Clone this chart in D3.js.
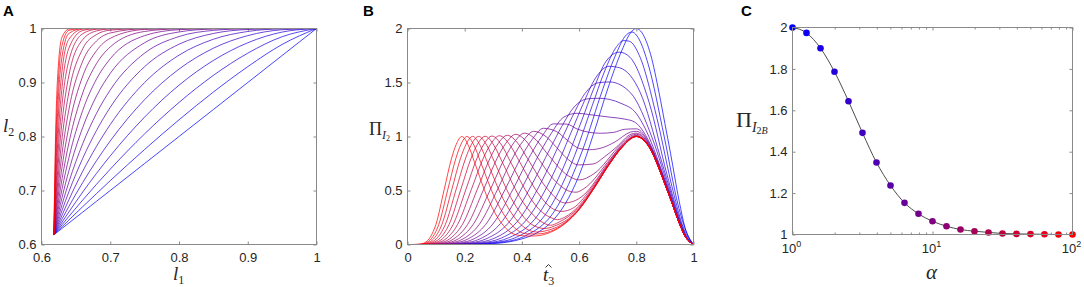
<!DOCTYPE html>
<html lang="en">
<head>
<meta charset="UTF-8">
<title>Panels A-C</title>
<style>
  body { margin: 0; background: #fff; }
  .tick text { font-family: "Liberation Sans", Arial, sans-serif; font-size: 13px; fill: #262626; }
  .tick line { stroke: #8a8a8a; }
  .frame { fill: none; stroke: #8a8a8a; stroke-width: 1; }
  .math { font-family: "Liberation Serif", "DejaVu Serif", serif; fill: #262626; }
  .letter { font-family: "Liberation Sans", Arial, sans-serif; font-weight: bold; font-size: 15px; fill: #000; }
  .curve { fill: none; stroke-width: 1; stroke-opacity: .72; }
</style>
</head>
<body>
<script src="https://cdn.jsdelivr.net/npm/d3@7"></script>
<script>
// alpha values (same 21 for every panel), blue -> red
var alphaVals = [1, 1.259, 1.585, 1.995, 2.512, 3.162, 3.981, 5.012, 6.310, 7.943, 10,
                 12.59, 15.85, 19.95, 25.12, 31.62, 39.81, 50.12, 63.10, 79.43, 100];

// ---- panel A : l2 vs l1 ----
var l1Grid = [0.618, 0.62, 0.625, 0.63, 0.64, 0.66, 0.68, 0.70, 0.75, 0.80, 0.85, 0.90, 0.95, 1];
var l2Curves = [
  [0.618,0.62,0.625,0.63,0.64,0.66,0.68,0.70,0.75,0.80,0.85,0.90,0.95,1],
  [0.618,0.6205,0.6268,0.6330,0.6455,0.6701,0.6943,0.7182,0.7760,0.8309,0.8823,0.9293,0.9705,1],
  [0.618,0.6212,0.6290,0.6368,0.6523,0.6824,0.7115,0.7395,0.8049,0.8630,0.9132,0.9543,0.9848,1],
  [0.618,0.6220,0.6318,0.6416,0.6606,0.6972,0.7317,0.7641,0.8360,0.8950,0.9408,0.9736,0.9934,1],
  [0.618,0.6230,0.6353,0.6474,0.6709,0.7149,0.7552,0.7918,0.8683,0.9248,0.9635,0.9868,0.9977,1],
  [0.618,0.6243,0.6397,0.6547,0.6833,0.7357,0.7818,0.8221,0.9000,0.9506,0.9801,0.9945,0.9994,1],
  [0.618,0.6259,0.6451,0.6636,0.6983,0.7597,0.8112,0.8540,0.9294,0.9709,0.9908,0.9982,0.9999,1],
  [0.618,0.6279,0.6518,0.6745,0.7163,0.7869,0.8428,0.8862,0.9544,0.9851,0.9965,0.9995,1,1],
  [0.618,0.6304,0.6601,0.6877,0.7373,0.8168,0.8750,0.9169,0.9737,0.9936,0.9990,0.9999,1,1],
  [0.618,0.6336,0.6702,0.7035,0.7615,0.8485,0.9064,0.9440,0.9868,0.9978,0.9998,1,1,1],
  [0.618,0.6375,0.6825,0.7224,0.7889,0.8808,0.9350,0.9659,0.9945,0.9994,1,1,1,1],
  [0.618,0.6424,0.6974,0.7444,0.8190,0.9119,0.9589,0.9818,0.9982,0.9999,1,1,1,1],
  [0.618,0.6485,0.7150,0.7697,0.8508,0.9397,0.9769,0.9917,0.9995,1,1,1,1,1],
  [0.618,0.6560,0.7359,0.7979,0.8830,0.9626,0.9888,0.9969,0.9999,1,1,1,1,1],
  [0.618,0.6652,0.7599,0.8287,0.9139,0.9795,0.9955,0.9991,1,1,1,1,1,1],
  [0.618,0.6764,0.7871,0.8608,0.9415,0.9904,0.9986,0.9998,1,1,1,1,1,1],
  [0.618,0.6900,0.8171,0.8928,0.9640,0.9963,0.9997,1,1,1,1,1,1,1],
  [0.618,0.7064,0.8488,0.9229,0.9805,0.9989,0.9999,1,1,1,1,1,1,1],
  [0.618,0.7257,0.8811,0.9490,0.9910,0.9998,1,1,1,1,1,1,1,1],
  [0.618,0.7483,0.9121,0.9697,0.9966,1,1,1,1,1,1,1,1,1],
  [0.618,0.7740,0.9399,0.9843,0.9990,1,1,1,1,1,1,1,1,1]
];

// ---- panel B : Pi_I2 vs t3, [t, value] per curve ----
var piCurves = [
  [[0,0],[0.15,0],[0.2,0.0006],[0.25,0.002],[0.3,0.008],[0.35,0.022],[0.4,0.052],[0.45,0.104],[0.5,0.20],[0.55,0.37],[0.6,0.64],[0.65,1.02],[0.7,1.44],[0.75,1.80],[0.78,1.96],[0.8,2.0],[0.82,1.96],[0.85,1.76],[0.88,1.40],[0.9,1.12],[0.92,0.84],[0.95,0.40],[0.97,0.16],[1,0]],
  [[0,0],[0.15,0],[0.2289,0.002],[0.3223,0.018],[0.4173,0.087],[0.5139,0.309],[0.6126,0.878],[0.6833,1.442],[0.7245,1.735],[0.7663,1.944],[0.785,1.967],[0.809,1.904],[0.8417,1.668],[0.8979,0.995],[0.9454,0.374],[0.9775,0.10],[1,0]],
  [[0,0],[0.15,0],[0.2092,0.001],[0.2964,0.015],[0.386,0.074],[0.4788,0.265],[0.5754,0.764],[0.6461,1.287],[0.6879,1.596],[0.7311,1.832],[0.755,1.888],[0.7759,1.882],[0.8108,1.749],[0.8727,1.164],[0.9277,0.504],[0.9675,0.135],[1,0]],
  [[0,0],[0.12,0],[0.1911,0.001],[0.2721,0.013],[0.3564,0.065],[0.4449,0.234],[0.5388,0.676],[0.6087,1.145],[0.6507,1.44],[0.6947,1.698],[0.741,1.781],[0.7777,1.734],[0.8446,1.318],[0.9068,0.652],[0.9548,0.211],[0.97,0.103],[1,0]],
  [[0,0],[0.1,0],[0.1743,0.001],[0.2494,0.012],[0.3284,0.060],[0.4124,0.217],[0.5029,0.615],[0.5716,1.035],[0.6134,1.298],[0.6576,1.542],[0.7048,1.650],[0.743,1.635],[0.814,1.406],[0.8828,0.820],[0.939,0.321],[0.95,0.230],[0.97,0.094],[1,0]],
  [[0,0],[0.09,0],[0.1589,0.001],[0.2283,0.012],[0.302,0.056],[0.3814,0.205],[0.4682,0.580],[0.535,0.952],[0.5762,1.183],[0.6202,1.397],[0.6679,1.498],[0.7069,1.505],[0.7811,1.401],[0.8558,0.985],[0.92,0.46],[0.95,0.218],[0.97,0.088],[1,0]],
  [[0,0],[0.08,0],[0.1447,0.001],[0.2087,0.011],[0.2774,0.055],[0.352,0.197],[0.4347,0.554],[0.4993,0.891],[0.5395,1.094],[0.5829,1.274],[0.6306,1.349],[0.67,1.354],[0.7465,1.307],[0.8,1.213],[0.8261,1.100],[0.8979,0.615],[0.92,0.446],[0.95,0.211],[0.97,0.083],[1,0]],
  [[0,0],[0.07,0],[0.1317,0.001],[0.1906,0.011],[0.2543,0.053],[0.3242,0.192],[0.4027,0.537],[0.4646,0.858],[0.5036,1.033],[0.5462,1.179],[0.5932,1.215],[0.6326,1.204],[0.7105,1.178],[0.76,1.161],[0.794,1.134],[0.8727,0.784],[0.9,0.585],[0.92,0.435],[0.95,0.203],[0.97,0.08],[1,0]],
  [[0,0],[0.06,0],[0.1198,0.001],[0.1739,0.011],[0.2329,0.053],[0.2982,0.189],[0.3721,0.528],[0.4313,0.834],[0.4689,0.997],[0.5101,1.117],[0.5563,1.115],[0.5953,1.067],[0.6737,1.030],[0.72,1.038],[0.76,1.067],[0.8,1.071],[0.8447,0.938],[0.88,0.722],[0.92,0.429],[0.95,0.202],[0.97,0.08],[1,0]],
  [[0,0],[0.06,0],[0.1088,0.001],[0.1585,0.011],[0.213,0.053],[0.2737,0.187],[0.3433,0.520],[0.3994,0.818],[0.4354,0.971],[0.4751,1.076],[0.52,1.047],[0.5583,0.967],[0.6,0.89],[0.6364,0.878],[0.68,0.895],[0.7245,0.948],[0.78,1.041],[0.8,1.048],[0.85,0.904],[0.88,0.713],[0.9,0.567],[0.92,0.423],[0.95,0.2],[0.97,0.08],[1,0]],
  [[0,0],[0.05,0],[0.0989,0.001],[0.1443,0.011],[0.1945,0.052],[0.2509,0.186],[0.316,0.516],[0.3691,0.809],[0.4033,0.955],[0.4414,1.048],[0.4847,0.998],[0.522,0.897],[0.55,0.815],[0.599,0.737],[0.65,0.746],[0.688,0.810],[0.73,0.90],[0.7812,1.021],[0.8,1.031],[0.85,0.894],[0.88,0.707],[0.9,0.563],[0.92,0.421],[0.95,0.2],[0.97,0.08],[1,0]],
  [[0,0],[0.05,0],[0.0897,0.001],[0.1313,0.011],[0.1775,0.052],[0.2297,0.186],[0.2904,0.513],[0.3403,0.802],[0.3727,0.945],[0.409,1.031],[0.4506,0.966],[0.4867,0.847],[0.562,0.637],[0.6,0.598],[0.6508,0.653],[0.7466,0.928],[0.78,1.006],[0.8,1.020],[0.85,0.888],[0.88,0.70],[0.9,0.56],[0.92,0.42],[0.95,0.2],[0.97,0.08],[1,0]],
  [[0,0],[0.04,0],[0.0814,0.001],[0.1194,0.011],[0.1618,0.052],[0.21,0.185],[0.2665,0.512],[0.3133,0.798],[0.3438,0.937],[0.3782,1.020],[0.4179,0.948],[0.4525,0.814],[0.5256,0.564],[0.57,0.49],[0.59,0.484],[0.6134,0.511],[0.7106,0.798],[0.75,0.924],[0.8,1.011],[0.82,0.985],[0.85,0.884],[0.88,0.70],[0.9,0.56],[0.92,0.42],[0.95,0.2],[0.97,0.08],[1,0]],
  [[0,0],[0.035,0],[0.0738,0.001],[0.1085,0.011],[0.1474,0.052],[0.1918,0.185],[0.2442,0.511],[0.2879,0.795],[0.3165,0.933],[0.349,1.011],[0.3866,0.935],[0.4196,0.796],[0.4901,0.511],[0.55,0.385],[0.5762,0.396],[0.62,0.467],[0.6737,0.650],[0.7,0.749],[0.75,0.915],[0.8,1.005],[0.82,0.982],[0.85,0.882],[0.88,0.70],[0.9,0.56],[0.92,0.42],[0.95,0.2],[0.97,0.08],[1,0]],
  [[0,0],[0.03,0],[0.067,0.001],[0.0986,0.011],[0.1341,0.052],[0.175,0.185],[0.2235,0.511],[0.2641,0.793],[0.2909,0.930],[0.3214,1.007],[0.3569,0.926],[0.3883,0.783],[0.4558,0.478],[0.5,0.344],[0.5395,0.307],[0.58,0.339],[0.6364,0.498],[0.7,0.738],[0.75,0.909],[0.8,1.002],[0.82,0.981],[0.85,0.88],[0.88,0.70],[0.9,0.56],[0.92,0.42],[0.95,0.2],[0.97,0.08],[1,0]],
  [[0,0],[0.03,0],[0.0607,0.001],[0.0895,0.011],[0.122,0.052],[0.1595,0.185],[0.2043,0.510],[0.242,0.793],[0.267,0.929],[0.2955,1.004],[0.3289,0.921],[0.3585,0.774],[0.4228,0.458],[0.46,0.325],[0.5037,0.246],[0.525,0.23],[0.55,0.253],[0.5991,0.357],[0.65,0.531],[0.7,0.73],[0.75,0.903],[0.8,1.0],[0.82,0.98],[0.85,0.88],[0.88,0.70],[0.9,0.56],[0.92,0.42],[0.95,0.2],[0.97,0.08],[1,0]],
  [[0,0],[0.025,0],[0.055,0.001],[0.0812,0.011],[0.1109,0.052],[0.1453,0.185],[0.1865,0.510],[0.2215,0.793],[0.2447,0.928],[0.2713,1.002],[0.3025,0.917],[0.3305,0.768],[0.3914,0.443],[0.4689,0.210],[0.5,0.178],[0.53,0.208],[0.562,0.257],[0.6,0.345],[0.65,0.523],[0.7,0.725],[0.75,0.902],[0.8,1.0],[0.82,0.98],[0.85,0.88],[0.88,0.70],[0.9,0.56],[0.92,0.42],[0.95,0.2],[0.97,0.08],[1,0]],
  [[0,0],[0.02,0],[0.0498,0.001],[0.0737,0.011],[0.1007,0.052],[0.1322,0.185],[0.1701,0.510],[0.2023,0.792],[0.2239,0.928],[0.2486,1.001],[0.2778,0.916],[0.3039,0.765],[0.3614,0.434],[0.4354,0.184],[0.48,0.148],[0.5256,0.184],[0.55,0.215],[0.6,0.335],[0.65,0.516],[0.7,0.722],[0.75,0.90],[0.8,1.0],[0.82,0.98],[0.85,0.88],[0.88,0.70],[0.9,0.56],[0.92,0.42],[0.95,0.2],[0.97,0.08],[1,0]],
  [[0,0],[0.02,0],[0.0451,0.001],[0.0668,0.011],[0.0915,0.052],[0.1202,0.185],[0.155,0.510],[0.1847,0.792],[0.2046,0.927],[0.2276,1.001],[0.2547,0.914],[0.2791,0.763],[0.3332,0.429],[0.4033,0.168],[0.45,0.116],[0.4902,0.131],[0.55,0.203],[0.6,0.329],[0.65,0.513],[0.7,0.721],[0.75,0.90],[0.8,1.0],[0.82,0.98],[0.85,0.88],[0.88,0.70],[0.9,0.56],[0.92,0.42],[0.95,0.2],[0.97,0.08],[1,0]],
  [[0,0],[0.015,0],[0.0408,0.001],[0.0605,0.011],[0.083,0.052],[0.1093,0.185],[0.1411,0.510],[0.1685,0.792],[0.1868,0.927],[0.208,1.0],[0.2333,0.914],[0.256,0.761],[0.3065,0.425],[0.3728,0.158],[0.42,0.098],[0.4559,0.098],[0.5,0.122],[0.55,0.196],[0.6,0.325],[0.65,0.512],[0.7,0.72],[0.75,0.90],[0.8,1.0],[0.82,0.98],[0.85,0.88],[0.88,0.70],[0.9,0.56],[0.92,0.42],[0.95,0.2],[0.97,0.08],[1,0]],
  [[0,0],[0.015,0],[0.037,0.001],[0.0548,0.011],[0.0753,0.052],[0.0993,0.185],[0.1284,0.510],[0.1535,0.792],[0.1704,0.927],[0.19,1.0],[0.2133,0.914],[0.2344,0.761],[0.2815,0.423],[0.3439,0.150],[0.38,0.089],[0.4229,0.078],[0.45,0.080],[0.5,0.113],[0.55,0.191],[0.6,0.322],[0.65,0.511],[0.7,0.72],[0.75,0.90],[0.78,0.98],[0.8,1.0],[0.82,0.98],[0.85,0.88],[0.88,0.70],[0.9,0.56],[0.92,0.42],[0.95,0.2],[0.97,0.08],[1,0]]
];

// ---- panel C : Pi_I2B vs alpha ----
var piI2B = [2.0, 1.974, 1.90, 1.786, 1.644, 1.491, 1.348, 1.237, 1.153, 1.10, 1.064,
             1.04, 1.024, 1.016, 1.01, 1.005, 1.003, 1.002, 1.001, 1.0, 1.0];

var ticksA = [0.6, 0.7, 0.8, 0.9, 1];
var ticksBx = [0, 0.2, 0.4, 0.6, 0.8, 1];
var ticksBy = [0, 0.5, 1, 1.5, 2];
var ticksCy = [1, 1.2, 1.4, 1.6, 1.8, 2];
var ticksCx = [1, 10, 100];
var minorCx = [2,3,4,5,6,7,8,9,20,30,40,50,60,70,80,90];

var col = d3.interpolateRgb("#0000ff", "#ff0000");
var n = alphaVals.length - 1;

var svg = d3.select("body").append("svg")
    .attr("width", 1084).attr("height", 287);

// draws a matlab style box: inner ticks on all four sides
function axesBox(g, x, y, w, h, xt, yt, xfmt, yfmt) {
    g.append("g").attr("transform", "translate(0," + h + ")")
        .call(d3.axisBottom(x).tickValues(xt).tickSize(-3).tickPadding(8).tickFormat(xfmt));
    g.append("g")
        .call(d3.axisTop(x).tickValues(xt).tickSize(-3).tickFormat(""));
    g.append("g")
        .call(d3.axisLeft(y).tickValues(yt).tickSize(-3).tickPadding(5).tickFormat(yfmt));
    g.append("g").attr("transform", "translate(" + w + ",0)")
        .call(d3.axisRight(y).tickValues(yt).tickSize(-3).tickFormat(""));
    g.selectAll(".domain").remove();
}

function frame(g, w, h) {
    g.append("rect").attr("class", "frame").attr("width", w).attr("height", h);
}

// ===== A =====
var wA = 275, hA = 216;
var gA = svg.append("g").attr("transform", "translate(41.5,28.5)");
var xA = d3.scaleLinear().domain([0.6, 1]).range([0, wA]);
var yA = d3.scaleLinear().domain([0.6, 1]).range([hA, 0]);
axesBox(gA, xA, yA, wA, hA, ticksA, ticksA, d3.format(""), d3.format(""));
var lineA = d3.line().x(function(d){ return xA(d[0]); }).y(function(d){ return yA(d[1]); })
    .curve(d3.curveMonotoneX);
l2Curves.forEach(function(row, i) {
    gA.append("path").attr("class", "curve")
        .attr("stroke", col(i / n))
        .attr("d", lineA(l1Grid.map(function(l, k){ return [l, row[k]]; })));
});
frame(gA, wA, hA);

// ===== B =====
var wB = 286, hB = 216;
var gB = svg.append("g").attr("transform", "translate(407.5,28.5)");
var xB = d3.scaleLinear().domain([0, 1]).range([0, wB]);
var yB = d3.scaleLinear().domain([0, 2]).range([hB, 0]);
axesBox(gB, xB, yB, wB, hB, ticksBx, ticksBy, d3.format(""), d3.format(""));
var lineB = d3.line().x(function(d){ return xB(d[0]); }).y(function(d){ return yB(d[1]); })
    .curve(d3.curveMonotoneX);
piCurves.forEach(function(c, i) {
    gB.append("path").attr("class", "curve")
        .attr("stroke", col(i / n))
        .attr("d", lineB(c));
});
frame(gB, wB, hB);

// ===== C =====
var wC = 280, hC = 207;
var gC = svg.append("g").attr("transform", "translate(792.5,27.5)");
var xC = d3.scaleLog().domain([1, 100]).range([0, wC]);
var yC = d3.scaleLinear().domain([1, 2]).range([hC, 0]);
axesBox(gC, xC, yC, wC, hC, ticksCx, ticksCy, function(){ return ""; }, d3.format(""));
gC.append("g").attr("transform", "translate(0," + hC + ")")
    .call(d3.axisBottom(xC).tickValues(minorCx).tickSize(-2).tickFormat(""));
gC.append("g")
    .call(d3.axisTop(xC).tickValues(minorCx).tickSize(-2).tickFormat(""));
gC.selectAll(".domain").remove();

var expLbl = gC.selectAll(".exp").data(ticksCx).enter().append("text")
    .attr("class", "exp")
    .attr("x", function(d){ return xC(d) - 1; })
    .attr("y", hC + 18)
    .attr("text-anchor", "middle")
    .style("font-family", "Liberation Sans, Arial, sans-serif")
    .style("font-size", "13px").style("fill", "#262626");
expLbl.append("tspan").text("10");
expLbl.append("tspan").attr("dy", -6).style("font-size", "9px")
    .text(function(d){ return String(Math.round(Math.log10(d))); });

var lineC = d3.line().x(function(d, i){ return xC(alphaVals[i]); }).y(function(d){ return yC(d); })
    .curve(d3.curveMonotoneX);
gC.append("path").attr("fill", "none").attr("stroke", "#4d4d4d").attr("stroke-width", 1)
    .attr("d", lineC(piI2B));
gC.selectAll("circle").data(piI2B).enter().append("circle")
    .attr("cx", function(d, i){ return xC(alphaVals[i]); })
    .attr("cy", function(d){ return yC(d); })
    .attr("r", 3.3)
    .attr("fill", function(d, i){ return col(i / n); });
frame(gC, wC, hC);

// ===== labels =====
function mathText(x, y, size) {
    return svg.append("text").attr("class", "math").attr("x", x).attr("y", y)
        .style("font-size", size + "px");
}
var t;
// l2
t = mathText(3, 132, 19);
t.append("tspan").style("font-style", "italic").text("l");
t.append("tspan").attr("dy", 4).style("font-size", "12px").text("2");
// l1
t = mathText(173, 280, 19);
t.append("tspan").style("font-style", "italic").text("l");
t.append("tspan").attr("dy", 4).style("font-size", "12px").text("1");
// Pi_I2
t = mathText(369, 135, 18);
t.append("tspan").text("\u03A0");
t.append("tspan").attr("dy", 4).style("font-size", "12px").style("font-style", "italic").text("I");
t.append("tspan").attr("dy", 2).style("font-size", "8px").text("2");
// t hat 3 (hat drawn as a small stroke)
t = mathText(543, 281, 19);
t.append("tspan").style("font-style", "italic").text("t");
t.append("tspan").attr("dy", 4).style("font-size", "12px").text("3");
svg.append("path").attr("fill", "none").attr("stroke", "#262626").attr("stroke-width", 0.9)
    .attr("d", "M545.5,267.5 L548.5,264.5 L551.5,267.5");
// Pi_I2B
t = mathText(736, 127, 22);
t.append("tspan").text("\u03A0");
t.append("tspan").attr("dy", 5).style("font-size", "14px").style("font-style", "italic").text("I");
t.append("tspan").attr("dy", 2).style("font-size", "10px").text("2");
t.append("tspan").style("font-size", "10px").style("font-style", "italic").text("B");
// alpha
mathText(926, 279, 21).style("font-style", "italic").text("\u03B1");

svg.append("text").attr("class", "letter").attr("x", 3).attr("y", 16).text("A");
svg.append("text").attr("class", "letter").attr("x", 363).attr("y", 16).text("B");
svg.append("text").attr("class", "letter").attr("x", 741).attr("y", 16).text("C");
</script>
</body>
</html>
